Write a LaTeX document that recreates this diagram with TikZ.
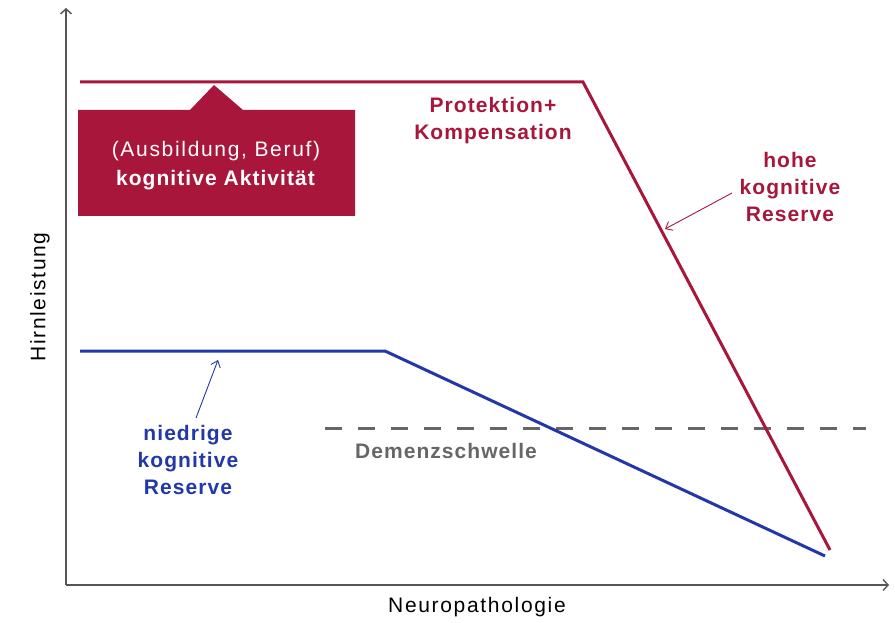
\documentclass[tikz,border=0pt]{standalone}
\usepackage{fontspec}
\setmainfont{Liberation Sans}[LetterSpace=8.0, BoldFeatures={LetterSpace=5.0}]
\usetikzlibrary{arrows.meta}
\definecolor{resred}{HTML}{A8173B}
\definecolor{resblue}{HTML}{2238A8}
\definecolor{thrgray}{HTML}{666666}
\definecolor{axgray}{HTML}{555555}
\tikzset{
  curve/.style={line width=3pt},
  axis/.style={line width=1.4pt, axgray, -{Straight Barb[length=5pt,width=11pt]}},
  lbl/.style={font=\bfseries\fontsize{21}{27}\selectfont, align=center, inner sep=0pt},
  axlbl/.style={font=\fontsize{21}{25}\selectfont, inner sep=0pt},
  pointer/.style={line width=0.9pt, -{Straight Barb[length=6pt,width=10pt]}},
}
\begin{document}
\begin{tikzpicture}[x=1pt, y=-1pt]
  \useasboundingbox (0,0) rectangle (895,623);

  % axes
  \coordinate (O) at (66,585);
  \coordinate (ytop) at (66,8);
  \coordinate (xend) at (889,585);
  \draw[axis] (O) -- (ytop);
  \draw[axis] (O) -- (xend);
  \node[axlbl, rotate=90] (ylab) at (40,297) {Hirnleistung};
  \node[axlbl] (xlab) at (477,607) {Neuropathologie};

  % threshold
  \coordinate (d1) at (325,428);
  \coordinate (d2) at (866,428);
  \draw[thrgray, line width=3pt, dash pattern=on 17pt off 16pt] (d1) -- (d2);
  \node[lbl, text=thrgray] (dem) at (446,451) {Demenzschwelle};

  % high reserve curve
  \coordinate (r1) at (80,82);
  \coordinate (r2) at (583,82);
  \coordinate (r3) at (830,550);
  \draw[curve, resred] (r1) -- (r2) -- (r3);

  % low reserve curve
  \coordinate (b1) at (80,351);
  \coordinate (b2) at (385,351);
  \coordinate (b3) at (825,556);
  \draw[curve, resblue] (b1) -- (b2) -- (b3);

  % callout box under the red plateau
  \fill[resred] (78,110) -- (190,110) -- (214,85) -- (243,110) -- (355,110)
    -- (355,216) -- (78,216) -- cycle;
  \node[font=\fontsize{21}{29}\selectfont, text=white, align=center, inner sep=0pt]
    (act) at (216,166) {(Ausbildung, Beruf)\\\textbf{kognitive Aktivität}};

  % labels
  \node[lbl, text=resred] (prot) at (493,121) {Protektion+\\Kompensation};
  \node[lbl, text=resred] (hoch) at (790,187) {hohe\\kognitive\\Reserve};
  \node[lbl, text=resblue] (nied) at (188,460) {niedrige\\kognitive\\Reserve};

  % pointers
  \coordinate (hs) at (732,193);
  \coordinate (hp) at (665,229);
  \coordinate (ns) at (196,418);
  \coordinate (np) at (218,360);
  \draw[pointer, resred] (hs) -- (hp);
  \draw[pointer, resblue] (ns) -- (np);
\end{tikzpicture}
\end{document}
